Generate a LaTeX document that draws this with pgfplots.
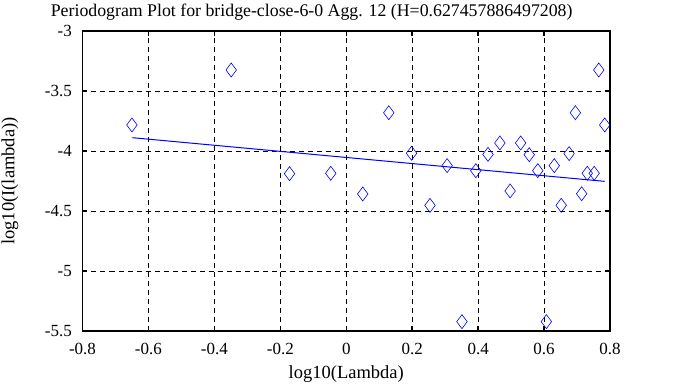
\documentclass[border=0pt]{standalone}
\usepackage{pgfplots}
\pgfplotsset{compat=1.18}
\usepackage{fontspec}
\setmainfont{Liberation Serif}
\begin{document}
\fontsize{17bp}{20bp}\selectfont
\begin{tikzpicture}
\begin{axis}[
  name=ax,
  scale only axis,
  width=527.5bp, height=300bp,
  xmin=-0.8, xmax=0.8, ymin=-5.5, ymax=-3,
  xtick={-0.8,-0.6,-0.4,-0.2,0,0.2,0.4,0.6,0.8},
  xticklabels={-0.8,-0.6,-0.4,-0.2,0,0.2,0.4,0.6,0.8},
  ytick={-5.5,-5,-4.5,-4,-3.5,-3},
  yticklabels={-5.5,-5,-4.5,-4,-3.5,-3},
  tick align=inside,
  tick pos=both,
  major tick length=5bp,
  every tick/.style={black, line width=1.5bp},
  axis line style={black, line width=1.8bp},
  grid=major,
  major grid style={black, line width=0.9bp, dash pattern=on 5bp off 4bp},
  xlabel={log10(Lambda)},
  ylabel={log10(I(lambda))},
  every axis x label/.style={at={(rel axis cs:0.5,0)}, anchor=center, yshift=-43bp, font=\fontsize{18.5bp}{20bp}\selectfont},
  every axis y label/.style={at={(rel axis cs:0,0.5)}, xshift=-72.5bp, rotate=90, anchor=center, font=\fontsize{18.5bp}{20bp}\selectfont},
  xticklabel style={inner sep=0pt, anchor=north, yshift=-12bp},
  yticklabel style={inner sep=0pt, anchor=east, xshift=-10.5bp},
  title={Periodogram Plot for bridge-close-6-0 Agg. 12 (H=0.627457886497208)},
  every axis title/.style={at={(rel axis cs:0.4345,1)}, anchor=north, inner sep=0pt, yshift=27bp, font=\fontsize{17.8bp}{20bp}\selectfont},
  clip=false,
]
\addplot[only marks, mark=diamond, mark size=7bp, blue, mark options={line width=0.6bp}] coordinates {
(-0.650,-3.783) (-0.349,-3.325) (-0.172,-4.189) (-0.047,-4.186) (0.050,-4.358)
(0.129,-3.681) (0.198,-4.019) (0.254,-4.453) (0.306,-4.122) (0.351,-5.422)
(0.393,-4.164) (0.430,-4.028) (0.466,-3.933) (0.497,-4.333) (0.529,-3.933)
(0.555,-4.031) (0.581,-4.164) (0.607,-5.422) (0.631,-4.122) (0.652,-4.453)
(0.676,-4.022) (0.695,-3.681) (0.714,-4.356) (0.731,-4.186) (0.752,-4.186)
(0.766,-3.325) (0.784,-3.783)
};
\addplot[blue, line width=1bp] coordinates {(-0.649,-3.889) (0.784,-4.253)};
\end{axis}
\pgfresetboundingbox
\path ([shift={(-82.5bp,-56bp)}]ax.south west) rectangle ([shift={(78bp,31bp)}]ax.north east);
\end{tikzpicture}
\end{document}
